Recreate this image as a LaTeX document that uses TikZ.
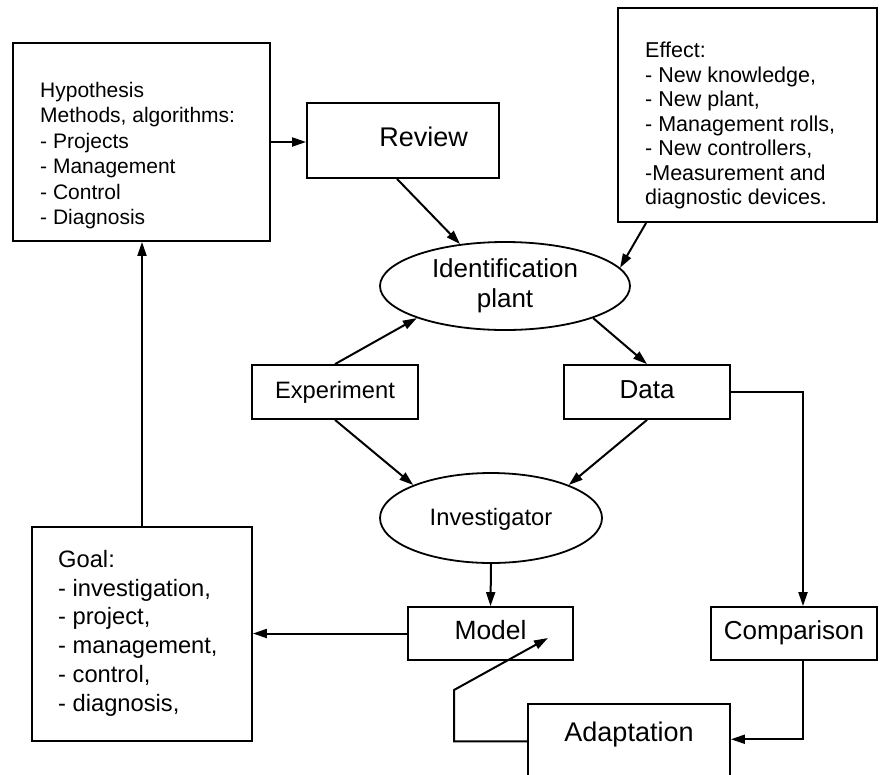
\documentclass[tikz,border=0pt]{standalone}
\usepackage{fontspec}
\setmainfont{Liberation Sans}
\usetikzlibrary{shapes.geometric}
\usetikzlibrary{arrows.meta}
\usetikzlibrary{calc}

\begin{document}
\begin{tikzpicture}[x=1pt,y=-1pt,
  box/.style={draw,line width=1.8pt,rectangle,inner sep=0pt,text height=1.2em,text depth=0pt},
  oval/.style={draw,line width=1.8pt,ellipse,inner sep=0pt,align=center},
  txt/.style={align=left,inner sep=0pt,anchor=north west},
  arr/.style={line width=2pt,-{Triangle[length=14pt,width=9pt]}}]
\clip (0,0) rectangle (880,774);
% text boxes
\node[box,minimum width=257pt,minimum height=198pt] (hyp) at (141.5,142) {};
\node[txt,font=\fontsize{21}{25.4}\selectfont] (hyptxt) at (40,82) {Hypothesis\\Methods, algorithms:\\- Projects\\- Management\\- Control\\- Diagnosis};
\node[box,minimum width=259pt,minimum height=214pt] (effect) at (747.5,115) {};
\node[txt,font=\fontsize{21.5}{24.5}\selectfont] (effecttxt) at (645,42) {Effect:\\- New knowledge,\\- New plant,\\- Management rolls,\\- New controllers,\\-Measurement and\\diagnostic devices.};
\node[box,minimum width=220pt,minimum height=214pt] (goal) at (142,634) {};
\node[txt,font=\fontsize{23.7}{28.8}\selectfont] (goaltxt) at (58,550) {Goal:\\- investigation,\\- project,\\- management,\\- control,\\- diagnosis,};
% loop
\node[box,minimum width=192pt,minimum height=75pt,text width=130pt,align=right,font=\fontsize{27}{31}\selectfont] (review) at (403,140.5) {Review};
\node[oval,minimum width=250pt,minimum height=88pt,font=\fontsize{26}{30}\selectfont] (ident) at (505,286) {Identification\\plant};
\node[box,minimum width=166pt,minimum height=54pt,font=\fontsize{23.7}{27}\selectfont] (exp) at (335,392) {Experiment};
\node[box,minimum width=166pt,minimum height=54pt,font=\fontsize{26}{30}\selectfont] (data) at (647,392) {Data};
\node[oval,minimum width=222pt,minimum height=90pt,text height=1.4em,text depth=0pt,font=\fontsize{23.7}{27}\selectfont] (inv) at (491,518) {Investigator};
\node[box,minimum width=165pt,minimum height=53pt,font=\fontsize{26.4}{30}\selectfont] (model) at (490.5,633.5) {Model};
\node[box,minimum width=166pt,minimum height=53pt,font=\fontsize{26}{30}\selectfont] (comp) at (794,633.5) {Comparison};
\node[box,minimum width=202pt,text height=37.7pt,text depth=58pt,font=\fontsize{27}{31}\selectfont] (adapt) at (629,752) {Adaptation};
\coordinate (fb) at (454,690);
\coordinate (fbtip) at (548,638);
% connectors
\draw[arr] (hyp.east) -- (review.west |- hyp.east);
\draw[arr] ($(review.south)+(-6,0)$) -- (ident.137);
\draw[arr] ($(effect.south west)+(29,0)$) -- (ident.9);
\draw[arr] (exp.north) -- (ident.200);
\draw[arr] (ident.340) -- (data.north);
\draw[arr] (exp.south) -- (inv.157);
\draw[arr] (data.south) -- (inv.23);
\draw[arr] (inv.south) -- (model.north);
\draw[arr] (model.west) -- (goal.east |- model.west);
\draw[arr] (goal.north) -- (goal.north |- hyp.south);
\draw[arr] (data.east) -| ($(comp.north)+(9,0)$);
\draw[arr] ($(comp.south)+(9,0)$) |- ($(adapt.north east)+(0,36)$);
\draw[arr] ($(adapt.north west)+(0,38)$) -| (fb) -- (fbtip); %feedback
\end{tikzpicture}
\end{document}
